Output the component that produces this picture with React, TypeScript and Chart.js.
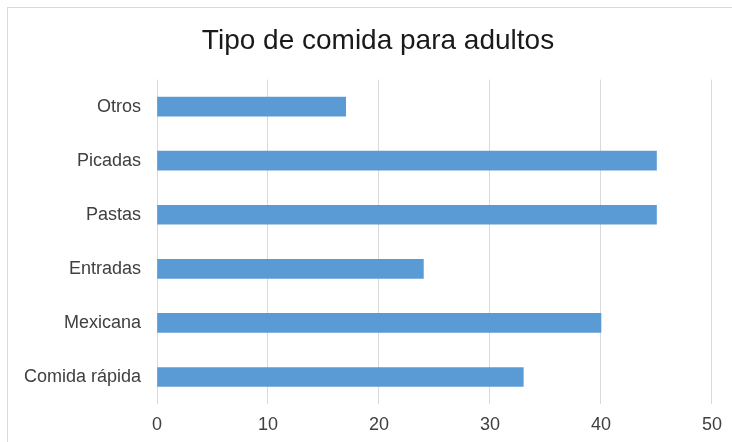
import React, { useEffect, useRef } from "react";
import { Chart, registerables } from "chart.js";

Chart.register(...registerables);

const categories = ["Otros", "Picadas", "Pastas", "Entradas", "Mexicana", "Comida rápida"];
const values = [17, 45, 45, 24, 40, 33];
const chartTitle = "Tipo de comida para adultos";
const xMin = 0;
const xMax = 50;
const xStep = 10;

const FONT = "Liberation Sans, Arial, sans-serif";

// Draws the title centred on the whole framed chart (slightly right of the canvas centre)
const titlePlugin = {
  id: "centredTitle",
  afterDraw(chart: any) {
    const ctx = chart.ctx;
    const t = chart.titleBlock;
    if (!t) return;
    ctx.save();
    ctx.font = `normal 28px ${FONT}`;
    ctx.fillStyle = "#1a1a1a";
    ctx.textAlign = "center";
    ctx.textBaseline = "middle";
    ctx.fillText(chartTitle, 378, t.top + 24 + 16.8);
    ctx.restore();
  },
};

export default function App() {
  const ref = useRef<HTMLCanvasElement | null>(null);
  useEffect(() => {
    if (!ref.current) return;
    const chart = new Chart(ref.current, {
      type: "bar",
      data: {
        labels: categories,
        datasets: [
          {
            data: values,
            backgroundColor: "#5B9BD5",
            borderWidth: 0,
            barThickness: 19,
          },
        ],
      },
      plugins: [titlePlugin],
      options: {
        indexAxis: "y",
        animation: false,
        responsive: false,
        maintainAspectRatio: false,
        layout: { padding: { left: 0, right: 20, top: 0, bottom: 0 } },
        plugins: {
          legend: { display: false },
          tooltip: { enabled: false },
          title: {
            display: true,
            text: chartTitle,
            color: "rgba(0,0,0,0)",
            font: { family: FONT, size: 28, weight: "normal" },
            padding: { top: 24, bottom: 22 },
          },
        },
        scales: {
          x: {
            min: xMin,
            max: xMax,
            ticks: {
              stepSize: xStep,
              color: "#404040",
              padding: 10,
              font: { family: FONT, size: 18 },
            },
            grid: { color: "#d9d9d9", drawTicks: false, lineWidth: 1 },
            border: { display: false },
            afterFit: (s: any) => {
              s.height = 38;
            },
          },
          y: {
            ticks: {
              color: "#404040",
              padding: 16,
              font: { family: FONT, size: 18 },
            },
            grid: { display: false, drawTicks: false },
            border: { display: false },
            afterFit: (s: any) => {
              s.width = 157;
            },
          },
        },
      },
    });
    return () => chart.destroy();
  }, []);
  return (
    <div style={{ position: "fixed", left: 0, top: 0, width: 732, height: 442, background: "#fff", overflow: "hidden" }}>
      <div
        style={{
          position: "absolute",
          left: 7,
          top: 7,
          width: 740,
          height: 450,
          border: "1px solid #d9d9d9",
        }}
      />
      <canvas ref={ref} width={732} height={442} style={{ position: "absolute", left: 0, top: 0 }} />
    </div>
  );
}
